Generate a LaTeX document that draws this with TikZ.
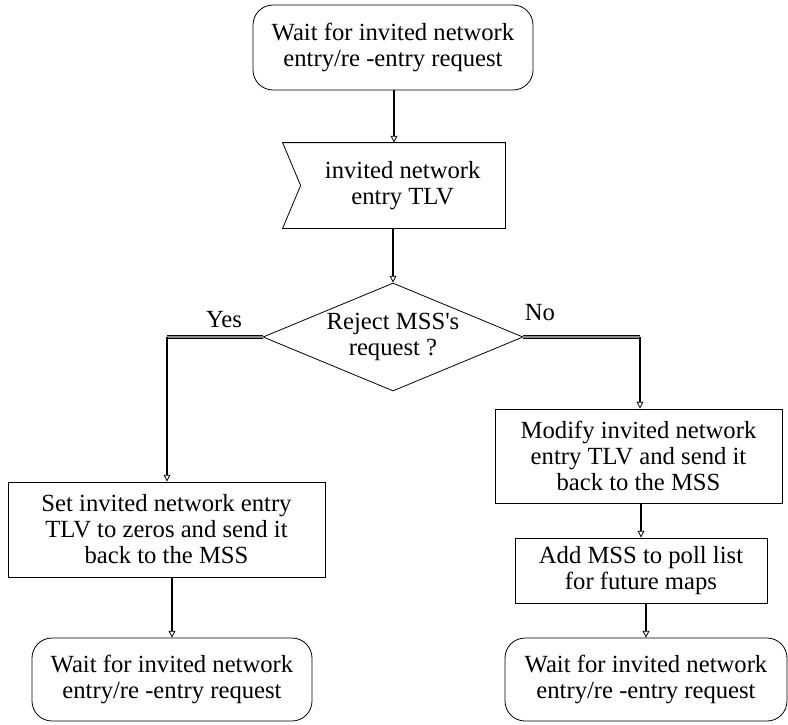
\documentclass[tikz,border=0pt]{standalone}
\usepackage{fontspec}
\setmainfont{Liberation Serif}
\usetikzlibrary{arrows.meta,shapes.geometric,calc}

\newcommand{\boxfont}{\fontsize{18.5}{19.5}\selectfont}
\colorlet{branch fill}{black!45}
\tikzset{
  outline/.style={draw, line width=0.6pt},
  block/.style={outline, rectangle, align=center, inner sep=0pt, font=\boxfont},
  waitbox/.style={block, rounded corners=15pt}
  }
\tikzstyle{decision} = [outline, diamond, aspect=2.4, align=center, inner sep=0pt, font=\boxfont]
\tikzstyle{flow} = [draw, line width=2.1pt, -{Triangle[open,length=5pt,width=5pt,line width=0.6pt]}]
\tikzstyle{branch} = [draw, line width=0.7pt, double=branch fill, double distance=1.6pt]

\begin{document}
\begin{tikzpicture}[x=0.75pt, y=-0.75pt]
    \useasboundingbox (0,0) rectangle (788,724);

    \node[waitbox, minimum width=210pt, minimum height=63.75pt] (start) at (393,47.5) {Wait for invited network\\entry/re -entry request};
    \node[block, draw=none, minimum width=166.5pt, minimum height=63.75pt] (recv) at (394,185.5) {\hspace*{13pt}invited network\\\hspace*{13pt}entry TLV};
    \draw[outline] (recv.north west) -- (recv.north east) -- (recv.south east) -- (recv.south west) -- ($(recv.west)+(18,0)$) -- cycle;
    \node[decision, minimum width=195pt, minimum height=81pt] (dec) at (393,337) {Reject MSS\textquotesingle s\\request ?};

    \node[block, minimum width=237.75pt, minimum height=71.25pt] (setz) at (166.5,529.5) {Set invited network entry\\TLV to zeros and send it\\back to the MSS};
    \node[block, minimum width=215.25pt, minimum height=70.5pt] (modify) at (638.5,456) {Modify invited network\\entry TLV and send it\\back to the MSS};
    \node[block, minimum width=189pt, minimum height=48.75pt] (addmss) at (641,570.5) {Add MSS to poll list\\for future maps};
    \node[waitbox, minimum width=210pt, minimum height=62.25pt] (waitL) at (172,679.5) {Wait for invited network\\entry/re -entry request};
    \node[waitbox, minimum width=211.5pt, minimum height=62.25pt] (waitR) at (646,679.5) {Wait for invited network\\entry/re -entry request};

    \node[font=\boxfont] (yes) at (224,320) {Yes};
    \node[font=\boxfont] (no) at (540,313) {No};

    \coordinate (yes turn) at (167,337);
    \coordinate (no turn) at (640,337);

    \foreach \source/\sink in {start/recv, recv/dec, setz/waitL, modify/addmss, addmss/waitR}
      \path[flow] (\source.south -| \sink.north) -- (\sink.north);

    \draw[branch] (dec.west) -- (yes turn);
    \draw[branch] (dec.east) -- (no turn);
    \path[flow] (yes turn) -- (yes turn |- setz.north);
    \path[flow] (no turn) -- (no turn |- modify.north);

\end{tikzpicture}
\end{document}
